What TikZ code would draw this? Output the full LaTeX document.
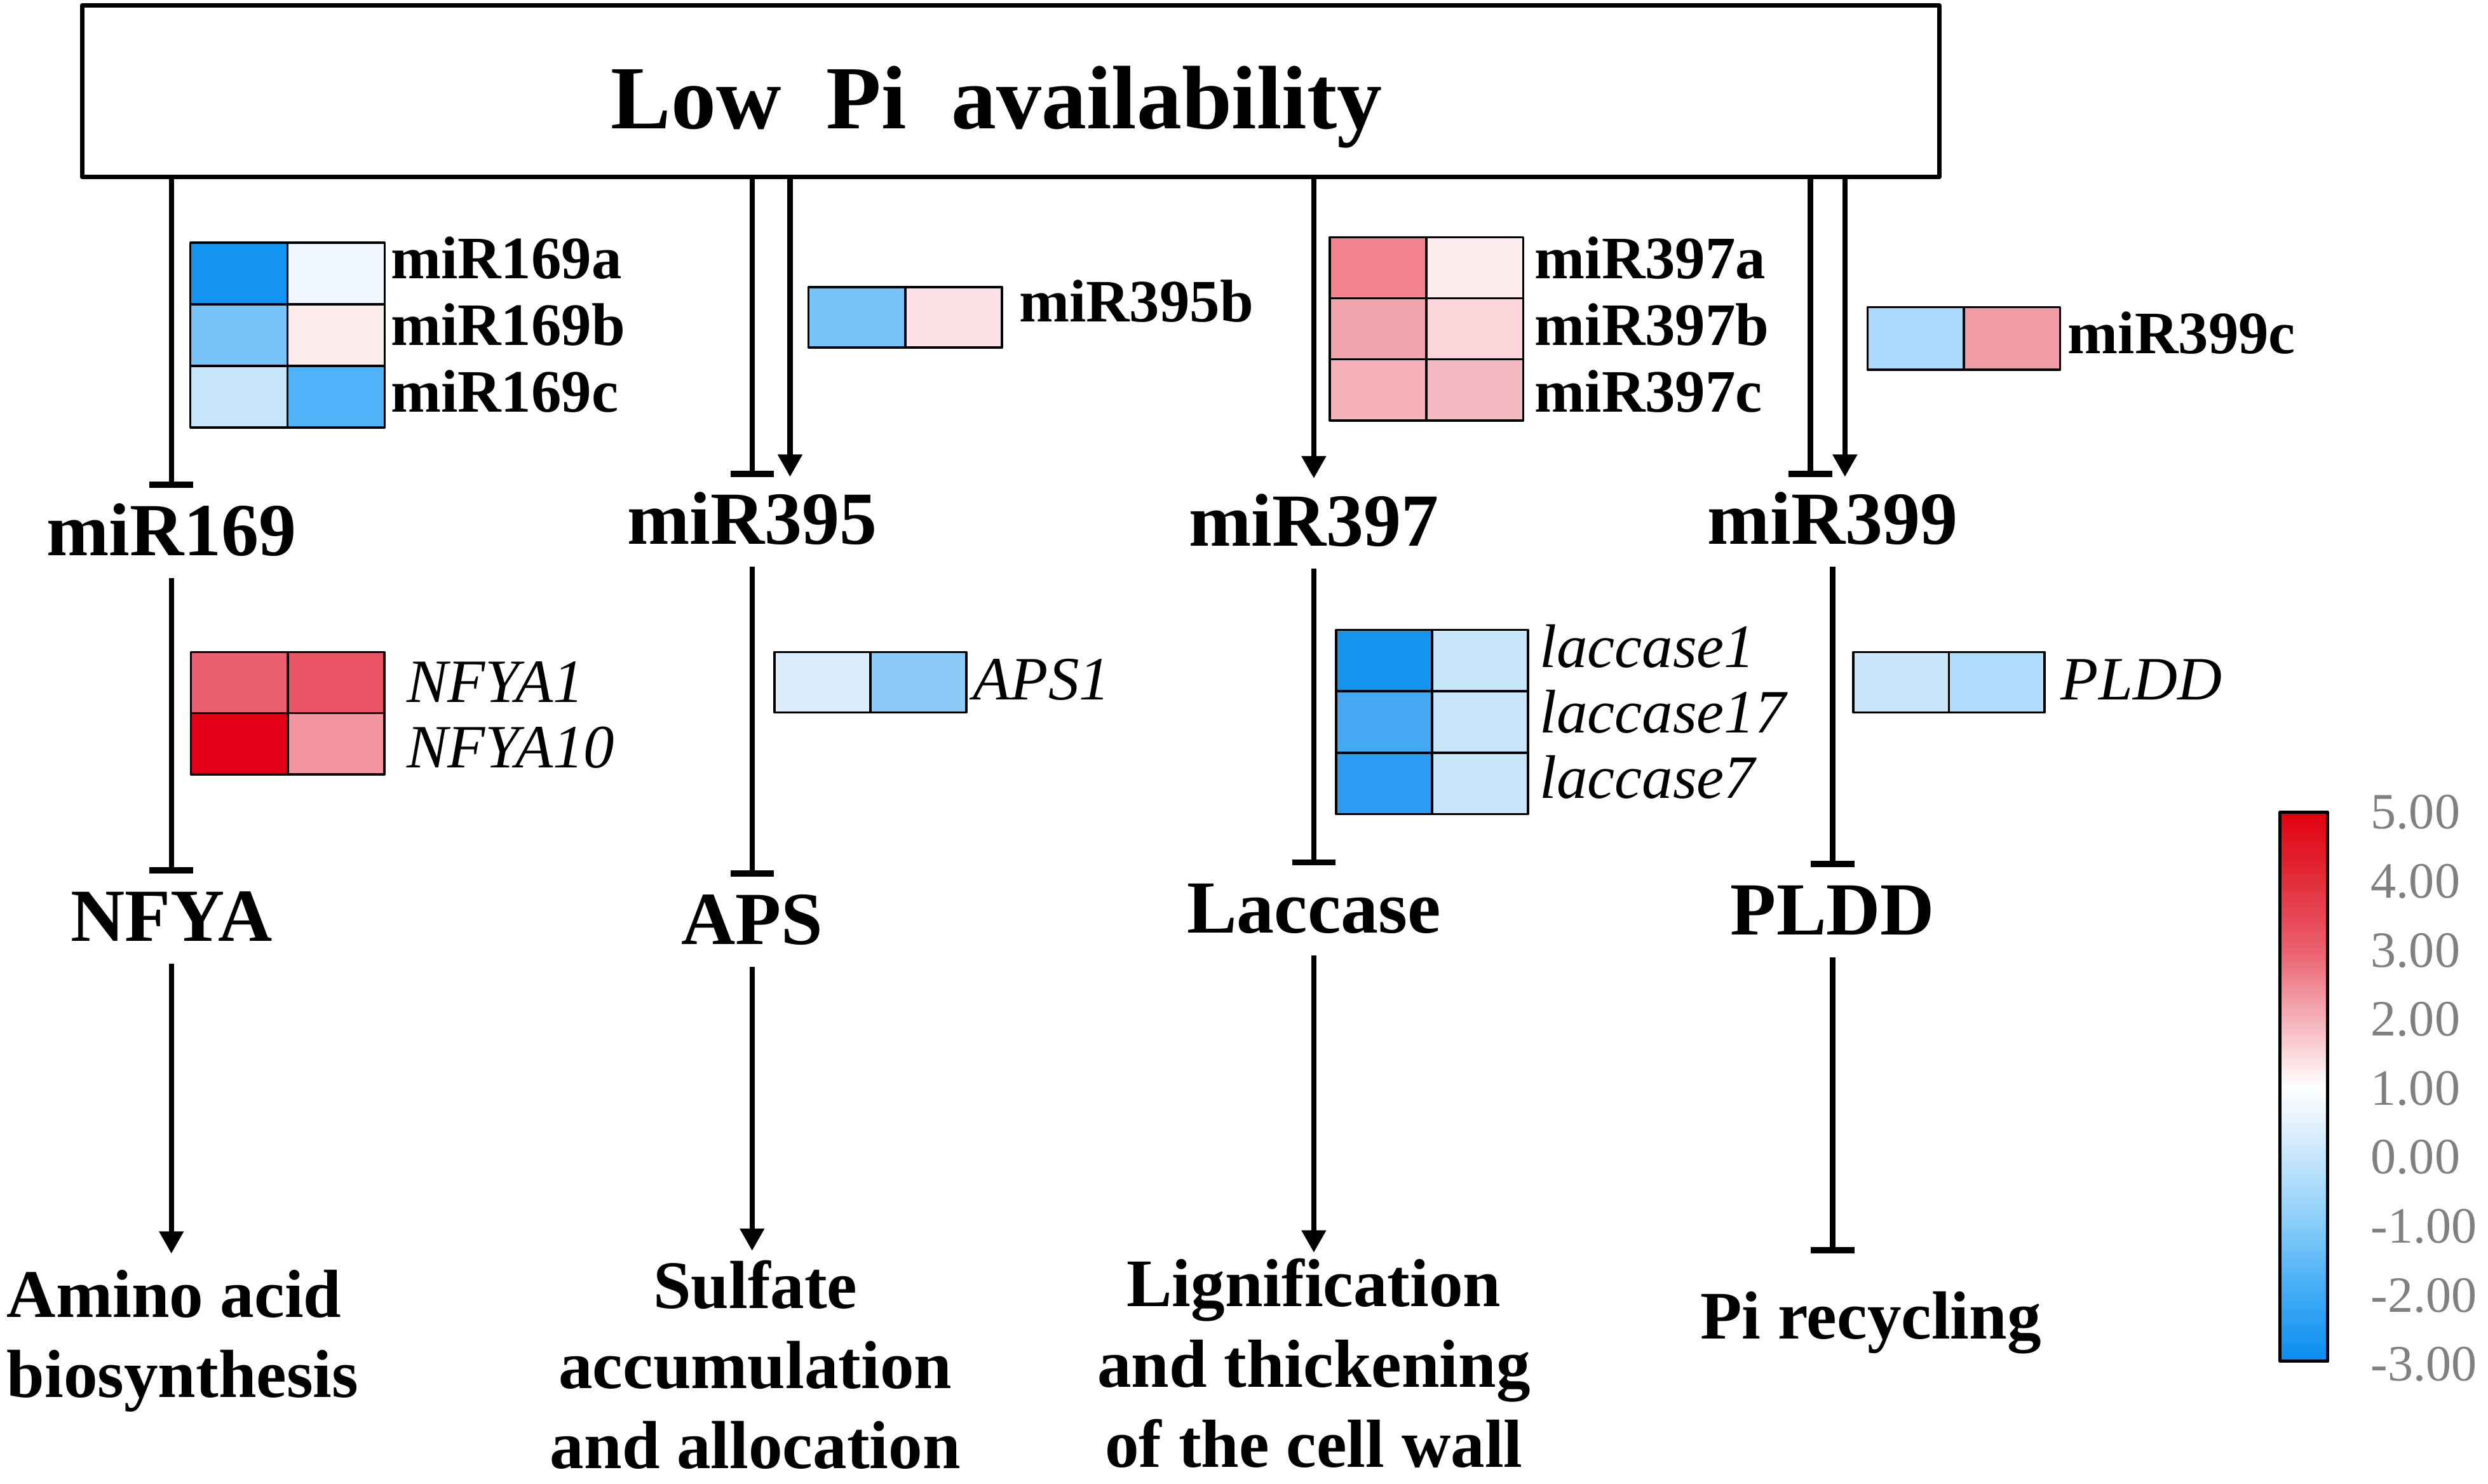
\documentclass[tikz,border=0pt]{standalone}
\usepackage{fontspec}
\setmainfont{Liberation Serif}
\usetikzlibrary{arrows.meta}

\definecolor{h169aL}{RGB}{18,148,240}  \definecolor{h169aR}{RGB}{240,247,255}
\definecolor{h169bL}{RGB}{120,195,250} \definecolor{h169bR}{RGB}{252,236,238}
\definecolor{h169cL}{RGB}{200,230,250} \definecolor{h169cR}{RGB}{80,178,248}
\definecolor{h395L}{RGB}{120,195,248}  \definecolor{h395R}{RGB}{252,225,230}
\definecolor{h397aL}{RGB}{240,131,142} \definecolor{h397aR}{RGB}{253,235,237}
\definecolor{h397bL}{RGB}{242,164,172} \definecolor{h397bR}{RGB}{251,213,218}
\definecolor{h397cL}{RGB}{245,178,187} \definecolor{h397cR}{RGB}{245,185,193}
\definecolor{h399L}{RGB}{169,218,251}  \definecolor{h399R}{RGB}{243,155,164}
\definecolor{nfya1L}{RGB}{236,95,110}  \definecolor{nfya1R}{RGB}{234,85,101}
\definecolor{nfya10L}{RGB}{227,0,22}   \definecolor{nfya10R}{RGB}{242,149,158}
\definecolor{aps1L}{RGB}{220,238,252}  \definecolor{aps1R}{RGB}{140,203,248}
\definecolor{lac1L}{RGB}{20,150,240}   \definecolor{lac1R}{RGB}{200,230,250}
\definecolor{lac17L}{RGB}{68,168,242}  \definecolor{lac17R}{RGB}{200,230,250}
\definecolor{lac7L}{RGB}{42,156,243}   \definecolor{lac7R}{RGB}{200,230,250}
\definecolor{plddL}{RGB}{201,230,251}  \definecolor{plddR}{RGB}{177,220,251}
\definecolor{scalegray}{RGB}{128,128,128}

\pgfdeclareverticalshading{scalebar}{100bp}{rgb(0bp)=(0.04,0.55,0.94); rgb(25bp)=(0.04,0.55,0.94);
  rgb(31.25bp)=(0.25,0.67,0.96); rgb(37.5bp)=(0.53,0.80,0.98); rgb(43.75bp)=(0.78,0.90,0.99);
  rgb(50bp)=(1,1,1); rgb(56.25bp)=(0.96,0.69,0.72); rgb(62.5bp)=(0.92,0.37,0.43);
  rgb(68.75bp)=(0.89,0.18,0.23); rgb(75bp)=(0.88,0,0.05); rgb(100bp)=(0.88,0,0.05)}

\begin{document}
\begin{tikzpicture}[x=0.025cm, y=-0.025cm, line join=round,
    act/.style={line width=2.4pt, -{Triangle[width=10.5pt,length=10pt]}},
    inhib/.style={line width=2.4pt, -{Bar[width=19.5pt,line width=2.8pt]}},
    cell/.style={draw=black, line width=1pt},
    mirlab/.style={font=\fontsize{33.6}{40}\selectfont\bfseries, inner xsep=0pt, inner ysep=7pt,
                   text height=23pt, text depth=3pt, anchor=base},
    hmlab/.style={font=\fontsize{27}{30}\selectfont\bfseries, inner sep=0pt, anchor=base west},
    genelab/.style={font=\fontsize{27.6}{30}\selectfont\itshape, inner sep=0pt, anchor=base west},
    outcome/.style={font=\fontsize{30.5}{36}\selectfont\bfseries, align=center, inner sep=0pt,
                    anchor=north},
    barlab/.style={font=\fontsize{22.8}{26}\selectfont, text=scalegray, inner sep=0pt, anchor=west}]
    \useasboundingbox (0,0) rectangle (1568,935);

    % stress box
    \node[draw, line width=2pt, inner sep=0pt, minimum width=29.25cm, minimum height=2.7cm] (lowpi) at (637,57.5) {};
    \node[font=\fontsize{40.4}{46}\selectfont\bfseries, inner sep=0pt, anchor=base] (title) at (628,81) {Low\ \ Pi\ \ availability};

    % miRNAs and targets
    \node[mirlab] (mir169) at (108,350) {miR169};
    \node[mirlab] (mir395) at (474,343) {miR395};
    \node[mirlab] (mir397) at (828,344) {miR397};
    \node[mirlab] (mir399) at (1155,343) {miR399};

    \node[mirlab] (nfya) at (108,593) {NFYA};
    \node[mirlab] (aps) at (474,595) {APS};
    \node[mirlab] (laccase) at (828,588) {Laccase};
    \node[mirlab] (pldd) at (1155,589) {PLDD};

    \node[outcome, anchor=north west, align=left] (amino) at (4,800) {Amino acid\\biosynthesis};
    \node[outcome] (sulfate) at (476,794) {Sulfate\\accumulation\\and allocation};
    \node[outcome] (lignif) at (828,793) {Lignification\\and thickening\\of the cell wall};
    \node[outcome] (picyc) at (1179,814) {Pi recycling};

    % heatmaps
    \foreach \ca/\cb [count=\r from 0] in {h169aL/h169aR, h169bL/h169bR, h169cL/h169cR} {
        \filldraw[cell, fill=\ca] (120,{153+38.8*\r}) rectangle ++(61.2,38.8);
        \filldraw[cell, fill=\cb] (181.2,{153+38.8*\r}) rectangle ++(61.2,38.8);
    }
    \filldraw[cell, fill=h395L] (509.5,181) rectangle ++(61,38);
    \filldraw[cell, fill=h395R] (570.5,181) rectangle ++(61,38);
    \foreach \ca/\cb [count=\r from 0] in {h397aL/h397aR, h397bL/h397bR, h397cL/h397cR} {
        \filldraw[cell, fill=\ca] (838,{149.5+38.5*\r}) rectangle ++(61,38.5);
        \filldraw[cell, fill=\cb] (899,{149.5+38.5*\r}) rectangle ++(61,38.5);
    }
    \filldraw[cell, fill=h399L] (1177,193.5) rectangle ++(60.7,39.5);
    \filldraw[cell, fill=h399R] (1237.7,193.5) rectangle ++(60.7,39.5);
    \foreach \ca/\cb [count=\r from 0] in {nfya1L/nfya1R, nfya10L/nfya10R} {
        \filldraw[cell, fill=\ca] (120.3,{411+38.5*\r}) rectangle ++(61,38.5);
        \filldraw[cell, fill=\cb] (181.3,{411+38.5*\r}) rectangle ++(61,38.5);
    }
    \filldraw[cell, fill=aps1L] (488,411) rectangle ++(60.5,38);
    \filldraw[cell, fill=aps1R] (548.5,411) rectangle ++(60.5,38);
    \foreach \ca/\cb [count=\r from 0] in {lac1L/lac1R, lac17L/lac17R, lac7L/lac7R} {
        \filldraw[cell, fill=\ca] (842,{397+38.7*\r}) rectangle ++(60.5,38.7);
        \filldraw[cell, fill=\cb] (902.5,{397+38.7*\r}) rectangle ++(60.5,38.7);
    }
    \filldraw[cell, fill=plddL] (1168,411) rectangle ++(60.3,38);
    \filldraw[cell, fill=plddR] (1228.3,411) rectangle ++(60.3,38);

    % heatmap labels
    \node[hmlab] (l169a) at (246,175.5) {miR169a};
    \node[hmlab] (l169b) at (246,217.5) {miR169b};
    \node[hmlab] (l169c) at (246,259.5) {miR169c};
    \node[hmlab] (l395b) at (642,203) {miR395b};
    \node[hmlab] (l397a) at (967,175.5) {miR397a};
    \node[hmlab] (l397b) at (967,217.5) {miR397b};
    \node[hmlab] (l397c) at (967,259.5) {miR397c};
    \node[hmlab] (l399c) at (1303,223) {miR399c};
    \node[genelab] (lnfya1) at (256,442.5) {NFYA1};
    \node[genelab] (lnfya10) at (256,484) {NFYA10};
    \node[genelab] (laps1) at (613,441) {APS1};
    \node[genelab] (llac1) at (970,420.5) {laccase1};
    \node[genelab] (llac17) at (970,461.8) {laccase17};
    \node[genelab] (llac7) at (970,503) {laccase7};
    \node[genelab] (lpldd) at (1298.6,441) {PLDD};

    % connectors
    \coordinate (a395) at ([xshift=17pt]mir395.north);
    \coordinate (i399) at ([xshift=-10pt]mir399.north);
    \coordinate (a399) at ([xshift=5.5pt]mir399.north);
    \draw[inhib] (mir169 |- lowpi.south) -- (mir169.north);
    \draw[inhib] (mir395 |- lowpi.south) -- (mir395.north);
    \draw[act] (a395 |- lowpi.south) -- (a395);
    \draw[act] (mir397 |- lowpi.south) -- (mir397.north);
    \draw[inhib] (i399 |- lowpi.south) -- (i399);
    \draw[act] (a399 |- lowpi.south) -- (a399);

    \draw[inhib] (mir169.south) -- (nfya.north);
    \draw[inhib] (mir395.south) -- (aps.north);
    \draw[inhib] (mir397.south) -- (laccase.north);
    \draw[inhib] (mir399.south) -- (pldd.north);

    \draw[act, shorten >=7pt] (nfya.south) -- (nfya.south |- amino.north);
    \draw[act, shorten >=4pt] (aps.south) -- (aps.south |- sulfate.north);
    \draw[act, shorten >=2.5pt] (laccase.south) -- (laccase.south |- lignif.north);
    \draw[inhib, shorten >=17pt] (pldd.south) -- (pldd.south |- picyc.north);

    % colour scale
    \shadedraw[shading=scalebar, draw=black, line width=1.5pt] (1437,512) rectangle (1467,858);
    \foreach \v [count=\i from 0] in {5.00,4.00,3.00,2.00,1.00,0.00,-1.00,-2.00,-3.00}
        \node[barlab] (v\i) at (1494,{512+43.5*\i}) {\v};
\end{tikzpicture}
\end{document}
